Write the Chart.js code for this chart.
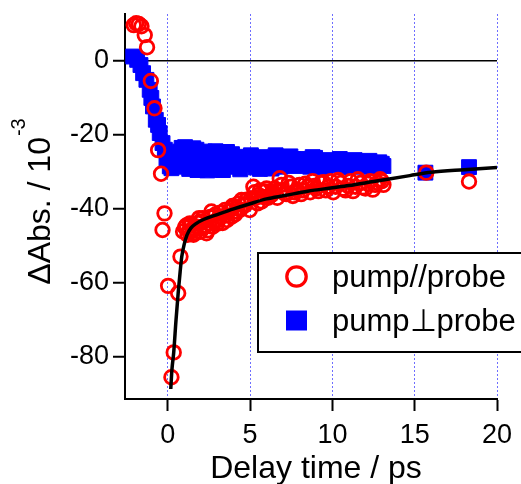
<!DOCTYPE html>
<html lang="en">
<head>
<meta charset="UTF-8">
<script src="https://cdn.jsdelivr.net/npm/chart.js"></script>
<style>
  body { margin: 0; background: #fff; }
</style>
</head>
<body>
<canvas id="myChart" width="521" height="484"></canvas>
<script>
// pump//probe (red circles)
const parX = [-2.07, -1.92, -1.76, -1.6, -1.4, -1.26, -1.03, -0.81, -0.59, -0.41, -0.32, -0.2, 0.02, 0.22, 0.36, 0.63, 0.77,
  0.93, 1.05, 1.2, 1.34, 1.5, 1.62, 1.74, 1.9, 2.04, 2.2, 2.35, 2.5, 2.65, 2.8, 3.06, 3.2, 3.47, 3.6, 3.87, 4.0, 4.17, 4.3,
  4.48, 4.7, 4.98, 5.2, 5.35, 5.5, 5.7, 5.9, 6.1, 6.3, 6.5, 6.8, 7.0, 7.2, 7.5, 7.7, 8.0, 8.2, 8.5, 8.8, 9.0, 9.3, 9.6,
  9.9, 10.2, 10.5, 10.8, 11.1, 11.4, 11.7, 12.0, 12.3, 12.6, 12.9, 13.1, 15.7, 18.3,
  1.12, 1.28, 1.42, 1.56, 1.68, 1.82, 1.97, 2.12, 2.28, 2.42, 2.58, 2.72, 2.9, 3.0, 3.13, 3.33, 3.53, 3.73, 3.93, 4.08,
  4.23, 4.4, 4.58, 4.8, 5.05, 5.28, 5.45, 5.6, 5.8, 6.0, 6.2, 6.4, 6.65, 6.9, 7.1, 7.35, 7.6, 7.85, 8.1, 8.35, 8.65, 8.9,
  9.15, 9.45, 9.75, 10.05, 10.35, 10.65, 10.95, 11.25, 11.55, 11.85, 12.15, 12.45, 12.75, 13.0]
const parY = [9.7, 10.2, 10, 9.4, 7, 3.7, -5.4, -12.8, -24.1, -30.5, -45.7, -41.2, -60.8, -85.5, -78.8, -62.8, -52.9,
  -46.1, -45, -47, -43.9, -45.5, -46.5, -44.8, -42.5, -43.4, -45, -46.6, -44, -40.7, -43.5, -43, -41, -40.3, -43, -42.1, -39.5, -40.7, -38.5,
  -37.6, -39, -40.3, -34, -37, -36.2, -38, -35.3, -37, -36.2, -34.5, -31.7, -34.9, -36, -34, -35.5, -33.5, -35, -34, -32.5, -34.5, -33, -35,
  -32.5, -34, -33, -35, -32.5, -34, -33, -34.5, -32.5, -33.5, -32, -33.5, -30.2, -32.6,
  -44.5, -46, -44.2, -47, -45.5, -43.8, -46.2, -42.5, -44.5, -45.8, -42.2, -44.8, -41.5, -44, -42.2, -43.8, -41.8, -40.5, -39.2, -41.5,
  -39.8, -40.2, -38.8, -37.5, -37.2, -35.5, -38.5, -35, -36.8, -34.5, -36.5, -35.5, -37, -33.5, -35.8, -33, -36.5, -34.8, -36, -33.2,
  -35.5, -33.8, -35.2, -32.8, -34, -35.5, -32.2, -34.5, -33.8, -35.2, -32, -34.2, -33.2, -34.8, -33, -32.5]

// pump⊥probe (blue squares)
const perpX = [-2.1, -1.86, -1.66, -1.5, -1.3, -1.1, -1.0, -0.9, -0.73, -0.59, -0.49, -0.32, -0.18, -0.08, 0.12, 0.3, 0.43,
  0.6, 0.75, 0.93, 1.1, 1.34, 1.5, 1.74, 1.95, 2.15, 2.35, 2.55, 2.8, 3.16, 3.4, 3.77, 4.0, 4.3, 4.6, 4.9, 5.2, 5.5, 5.8,
  6.1, 6.4, 6.7, 7.0, 7.3, 7.6, 7.9, 8.2, 8.5, 8.8, 9.1, 9.4, 9.7, 10.0, 10.3, 10.6, 10.9, 11.2, 11.5, 11.8, 12.1, 12.4,
  12.7, 13.0, 15.65, 18.3,
  0.05, 0.22, 0.38, 0.52, 0.68, 0.84, 1.02, 1.2, 1.42, 1.62, 1.85, 2.05, 2.25, 2.45, 2.68, 2.95, 3.3, 3.55, 3.9, 4.15,
  4.45, 4.75, 5.05, 5.35, 5.65, 5.95, 6.25, 6.55, 6.85, 7.15, 7.45, 7.75, 8.05, 8.35, 8.65, 8.95, 9.25, 9.55, 9.85, 10.15,
  10.45, 10.75, 11.05, 11.35, 11.65, 11.95, 12.25, 12.55, 12.85, 13.1,
  1.05, 1.3, 1.55, 1.8, 2.4, 2.9, 3.0, 3.35, 3.6, 4.4, 5.6, 6.3]
const perpY = [1.2, 0.3, -1.1, -3.3, -5.1, -7.8, -10, -12.3, -15.9, -17.3, -19.5, -22.2, -24, -26.8, -28.5, -27.5, -25,
  -28.6, -24.5, -24, -27.5, -24.9, -26, -24, -27, -25.9, -26.5, -28.3, -27, -27.2, -25.5, -27.7, -26.8, -28.5, -25.9, -28, -27, -26.5,
  -27.8, -27, -28.5, -27.5, -26.5, -27.8, -26.5, -27.5, -28, -27, -26, -27.5, -28, -27, -27.5, -28.2, -27.8, -27.5, -28.3, -28, -27.5,
  -28.5, -28, -28.2, -27.8, -30.2, -28.7,
  -26.5, -29, -26, -27.5, -26.8, -23.5, -25.5, -26.5, -23.8, -27.2, -24.8, -27.8, -24.5, -26.2, -28.8, -25.8, -28.2, -26.2, -25.2, -28.6,
  -26.8, -27.2, -25.5, -28.8, -26, -28.3, -26.2, -25.5, -28.6, -27.2, -25.8, -28.4, -26.5, -27.8, -28.6, -26.2, -27.5, -28.8, -26.8, -27.8,
  -26.5, -28.7, -27.2, -26.8, -28.6, -27.5, -27, -28.9, -27.4, -28.4,
  -23.3, -29.2, -23.6, -29.5, -29.6, -24.4, -29.4, -29.5, -24.6, -29.3, -29.2, -29.1]

// fit curve
const fitX = [0.18, 0.25, 0.36, 0.5, 0.63, 0.75, 0.85, 1.0, 1.17, 1.4, 1.74, 2.2, 2.96, 4, 5, 6, 7.1, 8.5, 10, 11, 12.5, 14.7, 16, 18, 20]
const fitY = [-88.7, -83.5, -78.8, -70, -62.8, -57, -52.9, -49.5, -47, -45.2, -43.9, -42.8, -41.6, -40, -38.6, -37.3, -36.4, -35.2,
  -34.3, -33.7, -32.6, -31, -30.1, -29.4, -28.8]

const xTicks = [0, 5, 10, 15, 20]
const yTicks = [-80, -60, -40, -20, 0]
const seriesNames = ['pump//probe', 'pump\u22A5probe']
const xTitle = 'Delay time / ps'

const pts = (xs, ys) => xs.map((x, i) => ({ x: x, y: ys[i] }))
const FONT = '"Liberation Sans", Arial, sans-serif'

// titles and in-plot legend
const extras = {
  id: 'extras',
  afterDraw(chart) {
    const ctx = chart.ctx
    const area = chart.chartArea
    ctx.save()
    ctx.fillStyle = '#000'
    // x title
    ctx.font = '32px ' + FONT
    ctx.textAlign = 'center'
    ctx.textBaseline = 'alphabetic'
    ctx.fillText(xTitle, (area.left + area.right) / 2 + 5, 478)
    // y title with superscript
    const main = '\u0394Abs. / 10'
    const sup = '-3'
    ctx.font = '32px ' + FONT
    const wMain = ctx.measureText(main).width
    ctx.font = '20px ' + FONT
    const wSup = ctx.measureText(sup).width
    ctx.translate(50, 202)
    ctx.rotate(-Math.PI / 2)
    ctx.textAlign = 'left'
    const start = -(wMain + wSup) / 2
    ctx.font = '32px ' + FONT
    ctx.fillText(main, start, 0)
    ctx.font = '20px ' + FONT
    ctx.fillText(sup, start + wMain + 1, -25)
    ctx.restore()

    // legend box
    ctx.save()
    ctx.fillStyle = '#fff'
    ctx.strokeStyle = '#000'
    ctx.lineWidth = 2
    ctx.fillRect(258, 253, 280, 99)
    ctx.strokeRect(258, 253, 280, 99)
    ctx.strokeStyle = 'rgb(255,0,0)'
    ctx.lineWidth = 3.3
    ctx.beginPath()
    ctx.arc(296.5, 276.5, 9.7, 0, Math.PI * 2)
    ctx.stroke()
    ctx.fillStyle = 'rgb(0,0,255)'
    ctx.fillRect(286, 310.5, 21, 20)
    ctx.fillStyle = '#000'
    ctx.font = '31px ' + FONT
    ctx.textAlign = 'left'
    ctx.textBaseline = 'alphabetic'
    ctx.fillText(seriesNames[0], 332, 287)
    ctx.fillText(seriesNames[1], 332, 331)
    ctx.restore()
  }
}

new Chart(document.getElementById('myChart'), {
  type: 'scatter',
  data: {
    datasets: [
      {
        type: 'line',
        label: 'fit',
        data: pts(fitX, fitY),
        borderColor: '#000',
        borderWidth: 3.5,
        pointRadius: 0,
        cubicInterpolationMode: 'monotone',
        fill: false,
        order: 0
      },
      {
        label: seriesNames[0],
        data: pts(parX, parY),
        pointStyle: 'circle',
        pointRadius: 6.8,
        borderWidth: 2.8,
        borderColor: 'rgb(255,0,0)',
        backgroundColor: 'rgba(0,0,0,0)',
        order: 1
      },
      {
        label: seriesNames[1],
        data: pts(perpX, perpY),
        pointStyle: 'rect',
        pointRadius: 10.5,
        borderWidth: 1,
        borderColor: 'rgb(0,0,255)',
        backgroundColor: 'rgb(0,0,255)',
        order: 2
      }
    ]
  },
  options: {
    responsive: false,
    animation: false,
    layout: { padding: { top: 14, right: 24, left: 0, bottom: 0 } },
    plugins: { legend: { display: false }, tooltip: { enabled: false } },
    scales: {
      x: {
        type: 'linear',
        min: -2.6,
        max: 20,
        afterBuildTicks: (scale) => { scale.ticks = xTicks.map(v => ({ value: v })) },
        afterFit: (scale) => { scale.height = 85 },
        grid: {
          color: 'rgb(110,110,255)',
          lineWidth: 1,
          tickColor: '#000',
          tickWidth: 2,
          tickLength: 12
        },
        border: { color: '#000', width: 2, dash: [2, 2] },
        ticks: {
          color: '#000',
          padding: 8,
          maxRotation: 0,
          font: { size: 27, family: FONT }
        }
      },
      y: {
        type: 'linear',
        min: -91.4,
        max: 12.7,
        afterBuildTicks: (scale) => { scale.ticks = yTicks.map(v => ({ value: v })) },
        afterFit: (scale) => {
          scale.width = 125
          scale.paddingTop = 0
          scale.paddingBottom = 0
        },
        grid: {
          color: (c) => (c.tick && c.tick.value === 0 ? '#000' : 'rgba(0,0,0,0)'),
          lineWidth: 1.5,
          tickColor: '#000',
          tickWidth: 2,
          tickLength: 12
        },
        border: { color: '#000', width: 2 },
        ticks: {
          color: '#000',
          padding: 4,
          font: { size: 27, family: FONT }
        }
      }
    }
  },
  plugins: [extras]
})
</script>
</body>
</html>
